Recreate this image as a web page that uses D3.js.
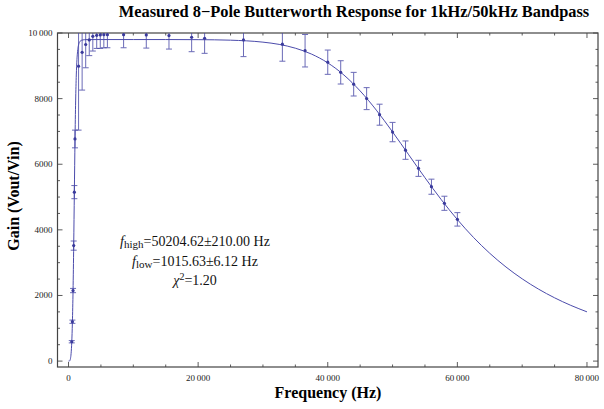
<!DOCTYPE html>
<html lang="en">
<head>
    <meta charset="UTF-8">
    <title>8-Pole Butterworth Response</title>
    <script src="https://d3js.org/d3.v7.min.js"></script>
    <style>
        body { margin: 0; background: #fff; }
        svg { font-family: "Liberation Serif", "DejaVu Serif", serif; }
        .tick-label { font-size: 9px; fill: #222; }
        .axis-title { font-size: 16px; font-weight: bold; fill: #000; }
        .title { font-size: 16.4px; font-weight: bold; fill: #000; }
        .note { font-size: 14px; fill: #111; }
    </style>
</head>
<body>
<div id="chart"></div>
<script>
    // measured points: frequency (Hz), gain (Vout/Vin), error
    const freqHz = [500, 600, 700, 800, 900, 1000, 1550, 2100, 2650, 3200, 3750, 4350, 4900, 5450, 6000,
        8500, 12000, 15500, 19000, 21000, 27000, 33000, 36500, 40000, 42000, 44000, 46000, 48000,
        50000, 52000, 54000, 56000, 58000, 60000];
    const gain = [590, 1200, 2150, 3520, 5150, 6770, 8990, 9410, 9650, 9790, 9900, 9930, 9940, 9950, 9950,
        9950, 9940, 9920, 9870, 9840, 9790, 9660, 9460, 9110, 8800, 8440, 8000, 7510,
        6980, 6430, 5875, 5315, 4810, 4320];
    const gainErr = [35, 50, 65, 140, 200, 270, 1950, 1150, 710, 480, 450, 400, 410, 400, 400,
        400, 400, 410, 440, 460, 510, 520, 495, 370, 355, 360, 335, 320,
        295, 280, 245, 230, 215, 205];

    // fitted curve
    const fitFreq = [0, 100, 200, 300, 400, 500, 600, 700, 800, 900, 1000, 1100, 1200, 1300, 1400, 1600,
        1800, 2000, 2500, 3000, 5000, 10000, 15000, 20000, 25000, 30000, 32500, 35000, 37500, 40000,
        42500, 45000, 47500, 50000, 52500, 55000, 57500, 60000, 62500, 65000, 67500, 70000, 72500,
        75000, 77500, 80000];
    const fitGain = [0, 0, 15, 75, 236, 575, 1185, 2157, 3521, 5144, 6712, 7928, 8720, 9184, 9444, 9674,
        9750, 9778, 9796, 9799, 9800, 9800, 9800, 9797, 9781, 9721, 9653, 9537, 9357, 9090,
        8718, 8234, 7648, 6985, 6287, 5589, 4925, 4314, 3767, 3286, 2868, 2507, 2196,
        1929, 1699, 1501];

    const xMajor = [0, 20000, 40000, 60000, 80000];
    const yMajor = [0, 2000, 4000, 6000, 8000, 10000];
    const fitLines = [
        { f: "f", sub: "high", rest: "=50204.62\u00b1210.00 Hz" },
        { f: "f", sub: "low", rest: "=1015.63\u00b16.12 Hz" }
    ];

    const W = 604, H = 409;
    const pLeft = 57.5, pRight = 598, pTop = 33, pBottom = 367;

    const x = d3.scaleLinear().domain([-1700, 81700]).range([pLeft, pRight]);
    const y = d3.scaleLinear().domain([-180, 10000]).range([pBottom, pTop]);

    const svg = d3.select("#chart").append("svg")
        .attr("width", W).attr("height", H);

    svg.append("clipPath").attr("id", "plot-clip")
        .append("rect")
        .attr("x", pLeft).attr("y", pTop)
        .attr("width", pRight - pLeft).attr("height", pBottom - pTop);

    const fmt = v => v >= 10000 ? d3.format(",")(v).replace(/,/g, "\u2009") : String(v);

    // frame ticks
    const tickColor = "#333";
    const frame = svg.append("g");
    const xMinor = d3.range(0, 80001, 5000).filter(v => !xMajor.includes(v));
    const yMinor = d3.range(0, 10001, 500).filter(v => !yMajor.includes(v));

    [[xMajor, 5], [xMinor, 2.5]].forEach(([vals, len]) => {
        frame.selectAll(null).data(vals).enter().append("line")
            .attr("x1", d => x(d)).attr("x2", d => x(d))
            .attr("y1", pBottom).attr("y2", pBottom - len)
            .attr("stroke", tickColor).attr("stroke-width", 0.8);
        frame.selectAll(null).data(vals).enter().append("line")
            .attr("x1", d => x(d)).attr("x2", d => x(d))
            .attr("y1", pTop).attr("y2", pTop + len)
            .attr("stroke", tickColor).attr("stroke-width", 0.8);
    });
    [[yMajor, 5], [yMinor, 2.5]].forEach(([vals, len]) => {
        frame.selectAll(null).data(vals).enter().append("line")
            .attr("x1", pLeft).attr("x2", pLeft + len)
            .attr("y1", d => y(d)).attr("y2", d => y(d))
            .attr("stroke", tickColor).attr("stroke-width", 0.8);
        frame.selectAll(null).data(vals).enter().append("line")
            .attr("x1", pRight).attr("x2", pRight - len)
            .attr("y1", d => y(d)).attr("y2", d => y(d))
            .attr("stroke", tickColor).attr("stroke-width", 0.8);
    });

    frame.append("rect")
        .attr("x", pLeft).attr("y", pTop)
        .attr("width", pRight - pLeft).attr("height", pBottom - pTop)
        .attr("fill", "none").attr("stroke", "#444").attr("stroke-width", 1.2);

    frame.selectAll(null).data(xMajor).enter().append("text")
        .attr("class", "tick-label")
        .attr("x", d => x(d)).attr("y", pBottom + 14)
        .attr("text-anchor", "middle")
        .text(fmt);
    frame.selectAll(null).data(yMajor).enter().append("text")
        .attr("class", "tick-label")
        .attr("x", pLeft - 5).attr("y", d => y(d) + 3)
        .attr("text-anchor", "end")
        .text(fmt);

    // fit curve
    const plot = svg.append("g").attr("clip-path", "url(#plot-clip)");
    const line = d3.line()
        .x((d, i) => x(fitFreq[i]))
        .y(d => y(d))
        .curve(d3.curveMonotoneX);
    plot.append("path")
        .datum(fitGain)
        .attr("d", line)
        .attr("fill", "none")
        .attr("stroke", "#4b4bab")
        .attr("stroke-width", 1);

    // error bars
    const pts = freqHz.map((f, i) => ({ f, g: gain[i], e: gainErr[i] }));
    const barColor = "#4646a6";
    const bars = plot.selectAll(".err").data(pts).enter().append("g").attr("class", "err")
        .attr("stroke", barColor).attr("stroke-width", 1).attr("opacity", 0.8);
    bars.append("line")
        .attr("x1", d => x(d.f)).attr("x2", d => x(d.f))
        .attr("y1", d => y(d.g + d.e)).attr("y2", d => y(d.g - d.e));
    bars.append("line")
        .attr("x1", d => x(d.f) - 3).attr("x2", d => x(d.f) + 3)
        .attr("y1", d => y(d.g + d.e)).attr("y2", d => y(d.g + d.e));
    bars.append("line")
        .attr("x1", d => x(d.f) - 3).attr("x2", d => x(d.f) + 3)
        .attr("y1", d => y(d.g - d.e)).attr("y2", d => y(d.g - d.e));

    plot.selectAll(".pt").data(pts).enter().append("circle")
        .attr("class", "pt")
        .attr("cx", d => x(d.f)).attr("cy", d => y(d.g))
        .attr("r", 1.6)
        .attr("fill", "#3a3a9c");

    // titles
    svg.append("text").attr("class", "title")
        .attr("x", 354).attr("y", 17)
        .attr("text-anchor", "middle")
        .text("Measured 8\u2212Pole Butterworth Response for 1kHz/50kHz Bandpass");
    svg.append("text").attr("class", "axis-title")
        .attr("x", 328).attr("y", 398)
        .attr("text-anchor", "middle")
        .text("Frequency (Hz)");
    svg.append("text").attr("class", "axis-title")
        .attr("transform", "translate(19,196) rotate(-90)")
        .attr("text-anchor", "middle")
        .text("Gain (Vout/Vin)");

    // fit result annotation
    const note = svg.append("g");
    fitLines.forEach((d, i) => {
        const t = note.append("text").attr("class", "note")
            .attr("x", 195).attr("y", 246 + i * 19.5)
            .attr("text-anchor", "middle");
        t.append("tspan").attr("font-style", "italic").text(d.f);
        t.append("tspan").attr("font-size", "11px").attr("dy", 2).text(d.sub);
        t.append("tspan").attr("dy", -2).text(d.rest);
    });
    const chi = note.append("text").attr("class", "note")
        .attr("x", 195).attr("y", 285)
        .attr("text-anchor", "middle");
    chi.append("tspan").attr("font-style", "italic").text("\u03c7");
    chi.append("tspan").attr("font-size", "10px").attr("dy", -5).text("2");
    chi.append("tspan").attr("dy", 5).text("=1.20");
</script>
</body>
</html>
